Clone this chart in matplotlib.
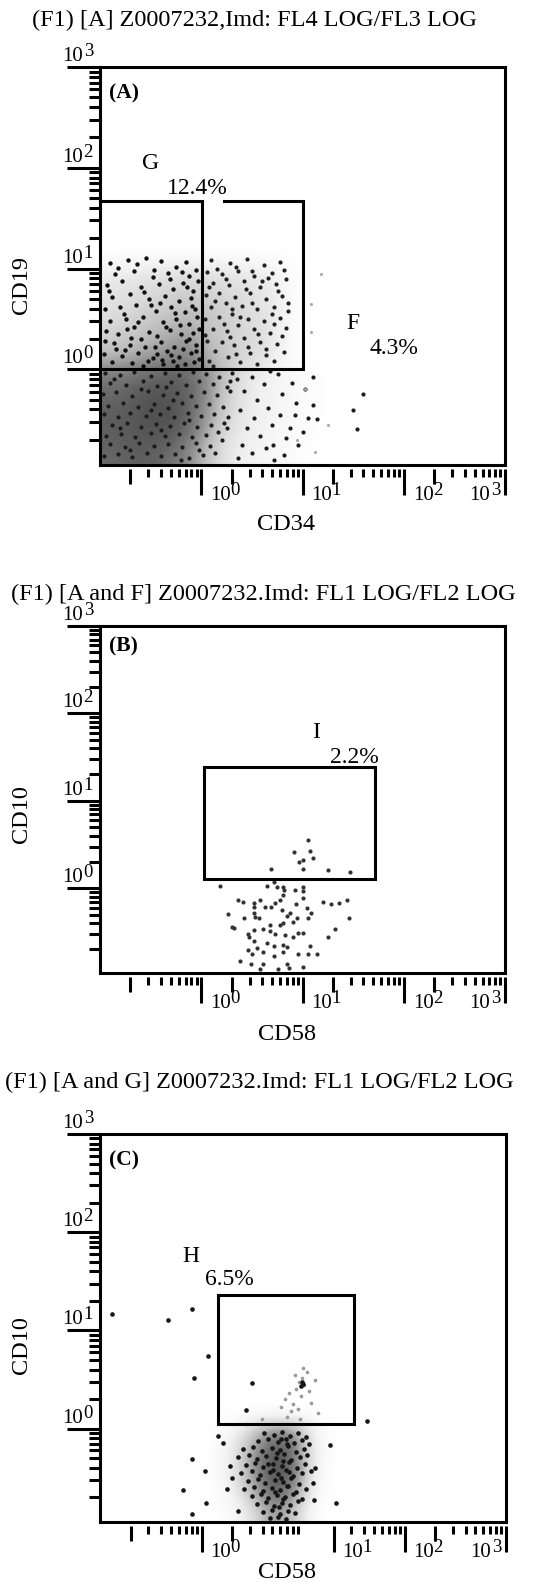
import numpy as np
import matplotlib
matplotlib.use("Agg")
import matplotlib.pyplot as plt

plt.rcParams['font.family'] = ['Liberation Serif', 'DejaVu Serif']

FIG_W, FIG_H = 534, 1582

# ---------------- data (log10 decades) ----------------
# panel A: CD34 (x) vs CD19 (y)
a_g_x = [-0.90, -0.72, -0.55, -0.40, -0.25, -0.15, -0.85, -0.66, -0.48, -0.33, -0.12, -0.05,
         -0.93, -0.78, -0.60, -0.42, -0.28, -0.18, -0.08, -0.88, -0.70, -0.52, -0.36, -0.22,
         -0.10, -0.64, -0.95, -0.80, -0.45, -0.30, -0.16, -0.06, -0.58, -0.90, -0.74, -0.38,
         -0.25, -0.12, -0.04, -0.66, -0.94, -0.82, -0.52, -0.44, -0.31, -0.20, -0.08, -0.60,
         -0.86, -0.70, -0.56, -0.40, -0.27, -0.15, -0.05, -0.34, -0.96, -0.78, -0.62, -0.48,
         -0.22, -0.10, -0.02, -0.88, -0.68, -0.53, -0.38, -0.28, -0.16, -0.07, -0.44, -0.75,
         -0.82, -0.63, -0.47, -0.31, -0.19, -0.03, -0.91, -0.57, -0.41, -0.14, -0.76, -0.50,
         -0.26, -0.09, -0.69, -0.35, -0.21, -0.02, -0.84, -0.46, -0.12, -0.58, -0.30, -0.05,
         -0.73, -0.39, -0.18, -0.95, -0.62, -0.24]
a_g_y = [1.05, 1.08, 1.10, 1.07, 1.02, 1.06, 0.95, 0.98, 0.92, 0.96, 0.93, 0.99,
         0.84, 0.88, 0.82, 0.85, 0.80, 0.86, 0.78, 0.72, 0.75, 0.70, 0.73, 0.68,
         0.71, 0.64, 0.60, 0.62, 0.58, 0.62, 0.57, 0.60, 0.52, 0.48, 0.50, 0.47,
         0.50, 0.45, 0.52, 0.42, 0.38, 0.35, 0.37, 0.33, 0.39, 0.35, 0.36, 0.30,
         0.26, 0.24, 0.22, 0.27, 0.22, 0.28, 0.24, 0.18, 0.15, 0.13, 0.16, 0.11,
         0.12, 0.16, 0.10, 0.07, 0.06, 0.08, 0.05, 0.08, 0.05, 0.07, 0.15, 0.19,
         1.01, 1.04, 0.99, 0.90, 0.97, 0.88, 0.78, 0.77, 0.66, 0.82, 0.55, 0.64,
         0.56, 0.63, 0.31, 0.42, 0.44, 0.40, 0.20, 0.22, 0.30, 0.03, 0.14, 0.18,
         0.40, 0.09, 0.20, 0.28, 0.47, 0.03]
a_f_x = [0.10, 0.28, 0.45, 0.62, 0.78, 0.06, 0.20, 0.36, 0.52, 0.70, 0.84, 0.12, 0.27, 0.42,
         0.58, 0.74, 0.18, 0.05, 0.33, 0.48, 0.64, 0.80, 0.24, 0.10, 0.40, 0.55, 0.72, 0.86,
         0.30, 0.04, 0.18, 0.46, 0.62, 0.78, 0.36, 0.12, 0.25, 0.52, 0.68, 0.84, 0.42, 0.06,
         0.20, 0.32, 0.58, 0.75, 0.14, 0.48, 0.64, 0.82, 0.26, 0.08, 0.38, 0.55, 0.72,
         0.16, 0.34, 0.50, 0.66, 0.82, 0.08, 0.24, 0.44, 0.60, 0.76, 0.14, 0.30, 0.50,
         0.70, 0.86, 0.22, 0.38, 0.56, 0.72, 0.04, 0.28, 0.46, 0.64, 0.80, 0.12, 0.34]
a_f_y = [1.08, 1.05, 1.09, 1.03, 1.06, 0.97, 0.95, 0.98, 0.93, 0.96, 0.90, 0.86, 0.84, 0.88,
         0.82, 0.85, 0.76, 0.74, 0.72, 0.76, 0.70, 0.73, 0.66, 0.62, 0.63, 0.60, 0.62, 0.58,
         0.55, 0.50, 0.52, 0.50, 0.48, 0.51, 0.44, 0.40, 0.38, 0.40, 0.36, 0.41, 0.31, 0.28,
         0.27, 0.24, 0.27, 0.25, 0.18, 0.16, 0.14, 0.17, 0.12, 0.08, 0.07, 0.05, 0.08,
         1.00, 1.02, 0.98, 0.91, 0.99, 0.82, 0.90, 0.80, 0.88, 0.78, 0.68, 0.60, 0.66,
         0.55, 0.66, 0.45, 0.52, 0.35, 0.45, 0.34, 0.32, 0.22, 0.20, 0.33, 0.03, 0.15]
a_low_x = [-0.95, -0.80, -0.66, -0.50, -0.36, -0.22, -0.08, 0.05, 0.18, 0.30,
           -0.90, -0.74, -0.58, -0.44, -0.30, -0.15, -0.02, 0.12, 0.25,
           -0.97, -0.84, -0.68, -0.53, -0.38, -0.24, -0.10, 0.03, 0.16, 0.28,
           -0.92, -0.77, -0.62, -0.47, -0.33, -0.19, -0.05, 0.08, 0.21,
           -0.96, -0.82, -0.70, -0.55, -0.41, -0.27, -0.13, 0.00, 0.13, 0.26,
           -0.88, -0.73, -0.60, -0.45, -0.31, -0.17, -0.04, 0.10, 0.22,
           -0.94, -0.79, -0.65, -0.50, -0.36, -0.22, -0.09, 0.05, 0.17,
           -0.90, -0.75, -0.61, -0.47, -0.33, -0.19, -0.05, 0.09,
           -0.96, -0.82, -0.68, -0.54, -0.40, -0.26, -0.12, 0.02, 0.14,
           -0.86, -0.60, -0.28, -0.12, -0.40, -0.70, -0.20, 0.20, -0.50, -0.80, -0.35, -0.02, 0.28, 0.25,
           0.35, 0.42, 0.38, 0.45, 0.40, 0.36, 0.50, 0.55, 0.52, 0.58, 0.50, 0.62, 0.66, 0.70, 0.64,
           0.72, 0.76, 0.80, 0.78, 0.84, 0.82, 0.90, 0.94, 0.88, 0.96, 1.02, 1.05, 1.00, 1.10, 0.68,
           1.10, 1.60, 1.50, 1.54, 1.14, 0.93, 0.71]
a_low_y = [-0.04, -0.06, -0.03, -0.07, -0.04, -0.06, -0.03, -0.05, -0.08, -0.04,
           -0.14, -0.16, -0.12, -0.17, -0.13, -0.16, -0.12, -0.15, -0.18,
           -0.25, -0.23, -0.27, -0.22, -0.26, -0.24, -0.27, -0.23, -0.26, -0.22,
           -0.36, -0.33, -0.37, -0.34, -0.38, -0.33, -0.36, -0.34, -0.37,
           -0.44, -0.47, -0.43, -0.46, -0.44, -0.47, -0.43, -0.46, -0.44, -0.47,
           -0.55, -0.53, -0.57, -0.54, -0.56, -0.53, -0.57, -0.55, -0.53,
           -0.66, -0.64, -0.67, -0.63, -0.66, -0.64, -0.67, -0.65, -0.62,
           -0.74, -0.77, -0.73, -0.76, -0.74, -0.77, -0.73, -0.76,
           -0.86, -0.84, -0.87, -0.83, -0.86, -0.84, -0.88, -0.85, -0.83,
           -0.10, -0.20, -0.30, -0.50, -0.60, -0.80, -0.90, -0.70, -0.40, -0.58, -0.18, -0.80, -0.12, -0.58,
           -0.10, -0.22, -0.40, -0.58, -0.75, -0.88, -0.08, -0.30, -0.48, -0.66, -0.83, -0.15, -0.38, -0.55, -0.78,
           -0.90, -0.05, -0.25, -0.45, -0.68, -0.85, -0.14, -0.33, -0.58, -0.75, -0.20, -0.48, -0.62, -0.35, -0.02,
           -0.08, -0.25, -0.40, -0.59, -0.49, -0.45, -0.75]
a_faint_x = [1.18, 1.08, 1.08, 1.25, 1.12, 0.95, 1.02]
a_faint_y = [0.95, 0.65, 0.37, -0.55, -0.82, -0.70, -0.20]
# background density of panel A (rows top->bottom, x -1..1.6, y -0.95..1.25)
a_density = [
    [0.00, 0.00, 0.00, 0.00, 0.00, 0.00, 0.00, 0.00, 0.00, 0.00, 0.00, 0.0, 0.0],
    [0.14, 0.16, 0.18, 0.20, 0.22, 0.20, 0.18, 0.16, 0.12, 0.02, 0.00, 0.0, 0.0],
    [0.18, 0.22, 0.24, 0.28, 0.30, 0.28, 0.24, 0.20, 0.16, 0.02, 0.00, 0.0, 0.0],
    [0.22, 0.26, 0.30, 0.34, 0.38, 0.32, 0.28, 0.22, 0.18, 0.02, 0.00, 0.0, 0.0],
    [0.28, 0.32, 0.38, 0.42, 0.46, 0.34, 0.28, 0.24, 0.18, 0.02, 0.00, 0.0, 0.0],
    [0.36, 0.40, 0.46, 0.52, 0.56, 0.38, 0.30, 0.24, 0.16, 0.02, 0.00, 0.0, 0.0],
    [0.60, 0.62, 0.66, 0.70, 0.66, 0.48, 0.28, 0.16, 0.10, 0.05, 0.02, 0.0, 0.0],
    [0.66, 0.70, 0.74, 0.74, 0.68, 0.48, 0.24, 0.14, 0.09, 0.05, 0.02, 0.0, 0.0],
    [0.70, 0.72, 0.76, 0.76, 0.66, 0.44, 0.22, 0.14, 0.09, 0.05, 0.02, 0.0, 0.0],
    [0.70, 0.72, 0.74, 0.72, 0.62, 0.38, 0.18, 0.12, 0.08, 0.04, 0.01, 0.0, 0.0],
    [0.66, 0.70, 0.70, 0.64, 0.52, 0.30, 0.14, 0.10, 0.06, 0.03, 0.00, 0.0, 0.0],
]

# panel B: CD58 (x) vs CD10 (y)
b_x = [1.05, 0.92, 1.07, 1.10, 1.00, 0.97, 0.69, 1.00, 1.25, 1.47,
       0.19, 0.36, 0.52, 0.52, 0.58, 0.63, 0.69, 0.73, 0.78, 0.81, 0.81, 0.82, 1.00, 1.00,
       1.00, 0.93, 0.94, 1.04, 1.08, 1.20, 1.28, 1.36, 1.44, 1.46, 1.32, 1.25, 0.75, 0.65,
       0.72, 0.26, 0.30, 0.42, 0.53, 0.57, 0.52, 0.80, 0.85, 0.88, 0.95, 1.05, 0.81, 0.46,
       0.47, 0.52, 0.61, 0.68, 0.73, 0.83, 0.91, 0.96, 1.00, 0.52, 0.65, 0.72, 0.81, 0.55,
       0.46, 0.50, 0.61, 0.72, 0.81, 0.96, 1.05, 1.14, 1.07, 0.38, 0.49, 0.61, 0.58, 0.85,
       0.87, 1.00, 0.76, 0.32, 0.85, 0.91, 0.68, 0.78, 0.41]
b_y = [0.55, 0.41, 0.43, 0.34, 0.32, 0.30, 0.22, 0.22, 0.21, 0.18,
       0.03, -0.13, -0.17, -0.22, -0.14, -0.21, -0.21, -0.17, -0.14, 0.01, -0.08, -0.02, 0.01, -0.03,
       -0.11, -0.02, -0.18, -0.23, -0.28, -0.16, -0.18, -0.17, -0.14, -0.34, -0.47, -0.56, 0.01, 0.02,
       0.07, -0.29, -0.44, -0.34, -0.33, -0.34, -0.28, -0.25, -0.32, -0.28, -0.34, -0.34, -0.40, -0.52,
       -0.56, -0.48, -0.47, -0.49, -0.52, -0.54, -0.56, -0.51, -0.51, -0.60, -0.63, -0.66, -0.65, -0.68,
       -0.71, -0.75, -0.73, -0.77, -0.73, -0.75, -0.75, -0.75, -0.66, -0.83, -0.87, -0.87, -0.92, -0.87,
       -0.91, -0.90, -0.92, -0.45, -0.67, -0.39, -0.42, -0.42, -0.16]

# panel C: CD58 (x) vs CD10 (y)
c_x = [0.62, 0.71, 0.79, 0.87, 0.95, 1.03, 0.56, 0.66, 0.75, 0.83, 0.91, 0.99, 1.06,
       0.41, 0.51, 0.60, 0.69, 0.77, 0.85, 0.93, 1.01, 0.36, 0.47, 0.55, 0.64, 0.73, 0.81,
       0.88, 0.97, 1.04, 0.44, 0.53, 0.61, 0.70, 0.79, 0.86, 0.94, 1.02, 0.39, 0.50, 0.58,
       0.67, 0.75, 0.83, 0.90, 0.99, 1.08, 0.46, 0.56, 0.63, 0.72, 0.80, 0.88, 0.96, 0.42,
       0.52, 0.61, 0.69, 0.77, 0.85, 0.93, 1.03, 0.50, 0.59, 0.66, 0.74, 0.82, 0.90, 0.99,
       0.55, 0.64, 0.71, 0.79, 0.87, 0.95, 0.61, 0.69, 0.77, 0.85, 0.92, 0.67, 0.75, 0.83,
       0.74, 0.80, 0.70, 0.78, 0.84, 0.72, 0.80, 0.76, 0.86, 0.66, 0.84, 0.78,
       0.06, -0.07, 0.50, 0.44, 1.63, 1.27, -0.09, -0.18, 0.03, 0.04, -0.09, 0.25, 0.36, 1.33,
       1.11, 0.16, 0.21, -0.88, -0.33, -0.09, 0.30, 0.28, 1.12, 1.10, 0.99, 1.00, 0.98]
c_y = [-0.04, -0.06, -0.03, -0.07, -0.04, -0.08, -0.13, -0.11, -0.14, -0.10, -0.15, -0.12, -0.16,
       -0.21, -0.19, -0.23, -0.20, -0.22, -0.18, -0.24, -0.21, -0.29, -0.27, -0.31, -0.28, -0.30, -0.26,
       -0.32, -0.29, -0.27, -0.37, -0.35, -0.39, -0.36, -0.38, -0.34, -0.40, -0.36, -0.45, -0.43, -0.47,
       -0.44, -0.46, -0.42, -0.48, -0.45, -0.43, -0.53, -0.51, -0.55, -0.52, -0.54, -0.50, -0.56, -0.61,
       -0.59, -0.63, -0.60, -0.62, -0.58, -0.64, -0.61, -0.69, -0.67, -0.71, -0.68, -0.70, -0.66, -0.72,
       -0.77, -0.75, -0.79, -0.76, -0.78, -0.74, -0.85, -0.83, -0.87, -0.84, -0.86, -0.91, -0.90, -0.92,
       -0.25, -0.33, -0.42, -0.50, -0.58, -0.64, -0.72, -0.80, -0.44, -0.36, -0.16, -0.10,
       0.74, 0.52, 0.47, 0.19, 0.08, -0.17, -0.31, -0.62, -0.43, -0.76, -0.87, -0.61, -0.84, -0.76,
       -0.73, -0.07, -0.15, 1.17, 1.11, 1.22, -0.50, -0.38, -0.40, -0.55, 0.48, 0.45, 0.43]
c_gray_x = [0.82, 0.86, 0.90, 0.93, 0.96, 0.99, 1.01, 1.04, 0.98, 0.95, 0.88, 1.06, 1.08,
            1.12, 0.92, 0.84, 1.00, 0.97, 0.78, 0.60, 0.45, 1.15]
c_gray_y = [0.30, 0.36, 0.25, 0.40, 0.48, 0.52, 0.44, 0.58, 0.33, 0.20, 0.18, 0.38, 0.26,
            0.50, 0.55, 0.12, 0.62, 0.10, 0.22, 0.10, 0.05, 0.16]
# background density of panel C (rows top->bottom, x 0.0..1.4, y -0.95..0.25)
c_density = [
    [0.0, 0.00, 0.00, 0.00, 0.00, 0.00, 0.0],
    [0.0, 0.08, 0.35, 0.62, 0.58, 0.08, 0.0],
    [0.0, 0.15, 0.48, 0.76, 0.66, 0.10, 0.0],
    [0.0, 0.15, 0.50, 0.78, 0.66, 0.08, 0.0],
    [0.0, 0.10, 0.40, 0.72, 0.55, 0.05, 0.0],
    [0.0, 0.03, 0.20, 0.52, 0.32, 0.00, 0.0],
]

# gates (x, y vertices)
a_gate_g = ([-1.0, 0.01, 0.01, -1.0], [1.67, 1.67, 0.0, 0.0])
a_gate_f = ([0.22, 1.0, 1.0, 0.01], [1.67, 1.67, 0.0, 0.0])
b_gate_i = ([0.03, 1.72, 1.72, 0.03, 0.03], [1.39, 1.39, 0.10, 0.10, 1.39])
c_gate_h = ([0.16, 1.50, 1.50, 0.16, 0.16], [1.36, 1.36, 0.05, 0.05, 1.36])

tick_exps = ["0", "1", "2", "3"]
y_major = [0, 1, 2, 3]
a_x_major = [0, 1, 2, 3]
b_x_major = [0, 1, 2, 3]
c_x_major = [0, np.log10(20), 2, 3]

LW = 2.2
TXT = 17


def px_axes(ax):
    pos = ax.get_position()
    return pos.width * FIG_W, pos.height * FIG_H


def ten_pow(ax, xy, coords, exp, side):
    # "10" plus a large raised exponent, like the cytometer print
    if side == "left":
        offs = [(9, -35, "left"), (29, -30, "left")]
    elif side == "xright":
        offs = [(-15, -35, "right"), (-5, -30, "right")]
    else:
        offs = [(-17, 6, "right"), (-7, 11, "right")]
    for (dx, dy, ha), s, fs in zip(offs, ["10", exp], [15, 13.5]):
        ax.annotate(s, xy=xy, xycoords=coords, xytext=(dx, dy), textcoords="offset pixels",
                    ha=ha, va="baseline", fontsize=fs, annotation_clip=False)


def setup_axes(ax, ylo, x_major):
    ax.set_xticks([])
    ax.set_yticks([])
    for sp in ax.spines.values():
        sp.set_linewidth(LW)
    W, H = px_axes(ax)
    kw = dict(color="k", lw=LW, solid_capstyle="butt", clip_on=False)
    # x ticks below the axis, with a small gap
    for d in range(-1, 3):
        for k in range(2, 10):
            p = d + np.log10(k)
            if min(abs(p - m) for m in x_major) < 0.01:
                continue
            ln = 19 if k == 2 else 12
            ax.plot([p, p], [-4 / H, -ln / H], transform=ax.get_xaxis_transform(), **kw)
    for m in x_major:
        ax.plot([m, m], [-4 / H, -30 / H], transform=ax.get_xaxis_transform(), **kw)
    # y ticks on the left
    for d in range(-1, 3):
        for k in range(2, 10):
            p = d + np.log10(k)
            if p < ylo:
                continue
            ax.plot([-1 / W, -11 / W], [p, p], transform=ax.get_yaxis_transform(), **kw)
    for m in y_major:
        ax.plot([0, -33 / W], [m, m], transform=ax.get_yaxis_transform(), **kw)
    for m, e in zip(y_major, tick_exps):
        ten_pow(ax, (0, m), ("axes fraction", "data"), e, "y")
    for i, (m, e) in enumerate(zip(x_major, tick_exps)):
        side = "xright" if i == len(x_major) - 1 else "left"
        ten_pow(ax, (m, 0), ("data", "axes fraction"), e, side)
    ax.set_xlim(-1, 3)
    ax.set_ylim(ylo, 3)


def gate(ax, g):
    ax.plot(g[0], g[1], color="k", lw=LW, solid_joinstyle="miter", zorder=5, clip_on=False)


fig = plt.figure(figsize=(FIG_W / 100, FIG_H / 100), dpi=100)


def add_axes(left, top, right, bottom):
    return fig.add_axes([left / FIG_W, 1 - bottom / FIG_H, (right - left) / FIG_W, (bottom - top) / FIG_H])


axA = add_axes(100, 67, 505, 465)
axB = add_axes(100, 626, 505, 973)
axC = add_axes(100, 1134, 506, 1522)

# ---- panel A
axA.imshow(a_density, extent=(-1, 1.6, -0.95, 1.25), cmap="Greys", vmin=0, vmax=1,
           interpolation="bicubic", aspect="auto", zorder=1)
axA.scatter(a_low_x, a_low_y, s=9, color="#1c1c1c", linewidths=0, zorder=3)
axA.scatter(a_g_x, a_g_y, s=10, color="#111111", linewidths=0, zorder=3)
axA.scatter(a_f_x, a_f_y, s=9, color="#222222", linewidths=0, zorder=3)
axA.scatter(a_faint_x, a_faint_y, s=5, color="#aaaaaa", linewidths=0, zorder=3)
gate(axA, a_gate_g)
gate(axA, a_gate_f)
setup_axes(axA, -0.95, a_x_major)
axA.text(-0.91, 2.74, "(A)", fontsize=15.5, fontweight="bold", va="center", ha="left")
axA.text(-0.50, 2.04, "G", fontsize=TXT, ha="center", va="center")
axA.text(-0.04, 1.79, "12.4%", fontsize=TXT, ha="center", va="center")
axA.text(1.50, 0.45, "F", fontsize=TXT, ha="center", va="center")
axA.text(1.90, 0.21, "4.3%", fontsize=TXT, ha="center", va="center")

# ---- panel B
axB.scatter(b_x, b_y, s=9, color="#333333", linewidths=0, zorder=3)
gate(axB, b_gate_i)
setup_axes(axB, -0.97, b_x_major)
axB.text(-0.91, 2.76, "(B)", fontsize=15.5, fontweight="bold", va="center", ha="left")
axB.text(1.13, 1.78, "I", fontsize=TXT, ha="center", va="center")
axB.text(1.51, 1.49, "2.2%", fontsize=TXT, ha="center", va="center")

# ---- panel C
axC.imshow(c_density, extent=(0.0, 1.4, -0.95, 0.25), cmap="Greys", vmin=0, vmax=1,
           interpolation="bicubic", aspect="auto", zorder=1)
axC.scatter(c_gray_x, c_gray_y, s=7, color="#9a9a9a", linewidths=0, zorder=3)
axC.scatter(c_x, c_y, s=11, color="#151515", linewidths=0, zorder=3)
gate(axC, c_gate_h)
setup_axes(axC, -0.95, c_x_major)
axC.text(-0.91, 2.73, "(C)", fontsize=15.5, fontweight="bold", va="center", ha="left")
axC.text(-0.10, 1.75, "H", fontsize=TXT, ha="center", va="center")
axC.text(0.27, 1.52, "6.5%", fontsize=TXT, ha="center", va="center")


def ftext(x, y, s, **kw):
    fig.text(x / FIG_W, 1 - y / FIG_H, s, ha="center", va="center", fontsize=17.5, **kw)


ftext(254, 20, "(F1) [A] Z0007232,Imd: FL4 LOG/FL3 LOG")
ftext(263, 594, "(F1) [A and F] Z0007232.Imd: FL1 LOG/FL2 LOG")
ftext(259, 1082, "(F1) [A and G] Z0007232.Imd: FL1 LOG/FL2 LOG")
ftext(22, 285, "CD19", rotation=90)
ftext(22, 814, "CD10", rotation=90)
ftext(22, 1345, "CD10", rotation=90)
ftext(286, 524, "CD34")
ftext(287, 1034, "CD58")
ftext(287, 1572, "CD58")

fig.savefig("out.png", dpi=100)
